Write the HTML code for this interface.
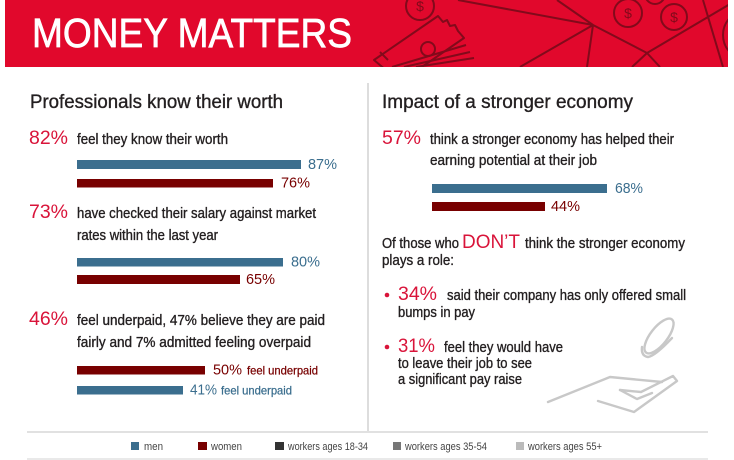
<!DOCTYPE html>
<html><head><meta charset="utf-8"><style>
html,body{margin:0;padding:0;background:#fff;}
svg{display:block;}
text{font-family:"Liberation Sans",sans-serif;}
</style></head><body>
<svg width="734" height="460" viewBox="0 0 734 460" xmlns="http://www.w3.org/2000/svg">
<defs><clipPath id="hc"><rect x="5" y="0" width="723" height="67"/></clipPath></defs>
<rect x="0" y="0" width="734" height="460" fill="#fff"/>
<!-- header -->
<rect x="5" y="0" width="723" height="67" fill="#e1082c"/>
<g clip-path="url(#hc)" stroke="#820a1b" stroke-width="2" fill="none" stroke-linejoin="round">
  <path d="M458,0 L593,25 M557,0 L593,25 M593,25 L520,67 M593,25 L587,67 M593,25 L647,53 M647,53 L632,67 M647,53 L730,4 M703,0 L723,67 M647,53 L660,67"/>
  <path d="M374,60 L438,16 L443,22 L447,20 L450,26 L455,25 L458,31 L464,38 L400,82 Z"/>
  <circle cx="428" cy="49" r="7"/>
  <path d="M392,67 L466,45 M404,67 L470,52 M416,67 L474,58 M380,52 L388,60"/>
  <circle cx="420" cy="6" r="14"/>
  <circle cx="628" cy="13" r="14"/>
  <circle cx="674" cy="17" r="13"/>
  <circle cx="655" cy="-6" r="10"/>
  <circle cx="748" cy="35" r="25"/>
</g>
<g fill="#820a1b" font-size="14" text-anchor="middle">
  <text x="420" y="11">$</text>
  <text x="628" y="18">$</text>
  <text x="674" y="22">$</text>
</g>
<text x="32" y="47" font-size="41" fill="#fff" stroke="#fff" stroke-width="0.7" textLength="320" lengthAdjust="spacingAndGlyphs">MONEY MATTERS</text>

<!-- divider -->
<line x1="368" y1="83" x2="368" y2="431" stroke="#d2d2d2" stroke-width="1.5"/>

<!-- left column -->
<g fill="#231f20" stroke="#231f20" stroke-width="0.35">
<text x="30" y="108" font-size="19" textLength="253" lengthAdjust="spacingAndGlyphs">Professionals know their worth</text>
<text x="77" y="144" font-size="14.5" textLength="151" lengthAdjust="spacingAndGlyphs">feel they know their worth</text>
<text x="77" y="218" font-size="14.5" textLength="239" lengthAdjust="spacingAndGlyphs">have checked their salary against market</text>
<text x="77" y="240" font-size="14.5" textLength="141" lengthAdjust="spacingAndGlyphs">rates within the last year</text>
<text x="77" y="325" font-size="14.5" textLength="248" lengthAdjust="spacingAndGlyphs">feel underpaid, 47% believe they are paid</text>
<text x="77" y="347" font-size="14.5" textLength="234" lengthAdjust="spacingAndGlyphs">fairly and 7% admitted feeling overpaid</text>
</g>
<g fill="#d9143a" font-size="19.5">
<text x="29" y="144" textLength="39" lengthAdjust="spacingAndGlyphs">82%</text>
<text x="29" y="218" textLength="39" lengthAdjust="spacingAndGlyphs">73%</text>
<text x="29" y="325" textLength="39" lengthAdjust="spacingAndGlyphs">46%</text>
</g>
<rect x="77" y="160" width="224" height="9" fill="#3b6e8e"/>
<text x="308" y="169" font-size="15" fill="#3b6e8e" textLength="29" lengthAdjust="spacingAndGlyphs">87%</text>
<rect x="77" y="179" width="196" height="8.5" fill="#780000"/>
<text x="281" y="187.5" font-size="15" fill="#780000" textLength="29" lengthAdjust="spacingAndGlyphs">76%</text>
<rect x="77" y="258" width="206" height="8.5" fill="#3b6e8e"/>
<text x="291" y="266.5" font-size="15" fill="#3b6e8e" textLength="29" lengthAdjust="spacingAndGlyphs">80%</text>
<rect x="77" y="275" width="163" height="9" fill="#780000"/>
<text x="246" y="284" font-size="15" fill="#780000" textLength="29" lengthAdjust="spacingAndGlyphs">65%</text>
<rect x="77" y="366" width="128" height="8.5" fill="#780000"/>
<text x="213" y="374.5" font-size="15" fill="#780000" textLength="29" lengthAdjust="spacingAndGlyphs">50%</text>
<text x="247" y="374.5" font-size="12" fill="#780000" stroke="#780000" stroke-width="0.25" textLength="71" lengthAdjust="spacingAndGlyphs">feel underpaid</text>
<rect x="77" y="386" width="106" height="8.5" fill="#3b6e8e"/>
<text x="190" y="394.5" font-size="15" fill="#3b6e8e" textLength="27" lengthAdjust="spacingAndGlyphs">41%</text>
<text x="221" y="394.5" font-size="12" fill="#3b6e8e" stroke="#3b6e8e" stroke-width="0.25" textLength="71" lengthAdjust="spacingAndGlyphs">feel underpaid</text>

<!-- right column -->
<g fill="#231f20" stroke="#231f20" stroke-width="0.35">
<text x="382" y="108" font-size="19" textLength="251" lengthAdjust="spacingAndGlyphs">Impact of a stronger economy</text>
<text x="430" y="144" font-size="14.5" textLength="244" lengthAdjust="spacingAndGlyphs">think a stronger economy has helped their</text>
<text x="430" y="165" font-size="14.5" textLength="167" lengthAdjust="spacingAndGlyphs">earning potential at their job</text>
<text x="382" y="248" font-size="14.5" textLength="77" lengthAdjust="spacingAndGlyphs">Of those who</text>
<text x="525" y="248" font-size="14.5" textLength="160" lengthAdjust="spacingAndGlyphs">think the stronger economy</text>
<text x="382" y="265" font-size="14.5" textLength="72" lengthAdjust="spacingAndGlyphs">plays a role:</text>
<text x="447" y="300" font-size="14.5" textLength="239" lengthAdjust="spacingAndGlyphs">said their company has only offered small</text>
<text x="398" y="317" font-size="14.5" textLength="77" lengthAdjust="spacingAndGlyphs">bumps in pay</text>
<text x="444" y="352" font-size="14.5" textLength="119" lengthAdjust="spacingAndGlyphs">feel they would have</text>
<text x="398" y="368" font-size="14.5" textLength="134" lengthAdjust="spacingAndGlyphs">to leave their job to see</text>
<text x="398" y="384" font-size="14.5" textLength="124" lengthAdjust="spacingAndGlyphs">a significant pay raise</text>
</g>
<g fill="#d9143a">
<text x="382" y="144" font-size="19.5" textLength="39" lengthAdjust="spacingAndGlyphs">57%</text>
<text x="462" y="248" font-size="19" textLength="58" lengthAdjust="spacingAndGlyphs">DON’T</text>
<circle cx="387" cy="295" r="2.3"/>
<text x="398" y="300" font-size="19.5" textLength="39" lengthAdjust="spacingAndGlyphs">34%</text>
<circle cx="387" cy="347" r="2.3"/>
<text x="398" y="352" font-size="19.5" textLength="37" lengthAdjust="spacingAndGlyphs">31%</text>
</g>
<rect x="432" y="184" width="175" height="9" fill="#3b6e8e"/>
<text x="615" y="193" font-size="15" fill="#3b6e8e" textLength="28" lengthAdjust="spacingAndGlyphs">68%</text>
<rect x="432" y="202" width="113" height="9" fill="#780000"/>
<text x="551" y="211" font-size="15" fill="#780000" textLength="29" lengthAdjust="spacingAndGlyphs">44%</text>

<!-- hand icon -->
<g stroke="#c8c8c8" stroke-width="2.4" fill="none" stroke-linejoin="round" stroke-linecap="round">
  <ellipse cx="659" cy="336" rx="21" ry="8.5" transform="rotate(-52 659 336)"/>
  <path d="M642,347 Q641,356 648,357 Q655,356 672,338"/>
  <path d="M548,402 L610,377 L662,382"/>
  <path d="M620,390 L641,392 L673,376 L677,381 L634,412 L598,401"/>
  <path d="M620,390 L637,399 L652,393"/>
</g>

<!-- legend -->
<line x1="27" y1="432" x2="708" y2="432" stroke="#cfcfcf" stroke-width="1.2"/>
<line x1="27" y1="459" x2="708" y2="459" stroke="#dcdcdc" stroke-width="1.2"/>
<rect x="131" y="442" width="8" height="8" fill="#3b6e8e"/>
<rect x="198" y="442" width="9" height="8" fill="#780000"/>
<rect x="275" y="442" width="9" height="8" fill="#333"/>
<rect x="393" y="442" width="8" height="8" fill="#777"/>
<rect x="516" y="442" width="8" height="8" fill="#bbb"/>
<g fill="#444" font-size="11">
<text x="144" y="450" textLength="19" lengthAdjust="spacingAndGlyphs">men</text>
<text x="211" y="450" textLength="31" lengthAdjust="spacingAndGlyphs">women</text>
<text x="288" y="450" textLength="80" lengthAdjust="spacingAndGlyphs">workers ages 18-34</text>
<text x="405" y="450" textLength="82" lengthAdjust="spacingAndGlyphs">workers ages 35-54</text>
<text x="528" y="450" textLength="74" lengthAdjust="spacingAndGlyphs">workers ages 55+</text>
</g>
</svg>
</body></html>
